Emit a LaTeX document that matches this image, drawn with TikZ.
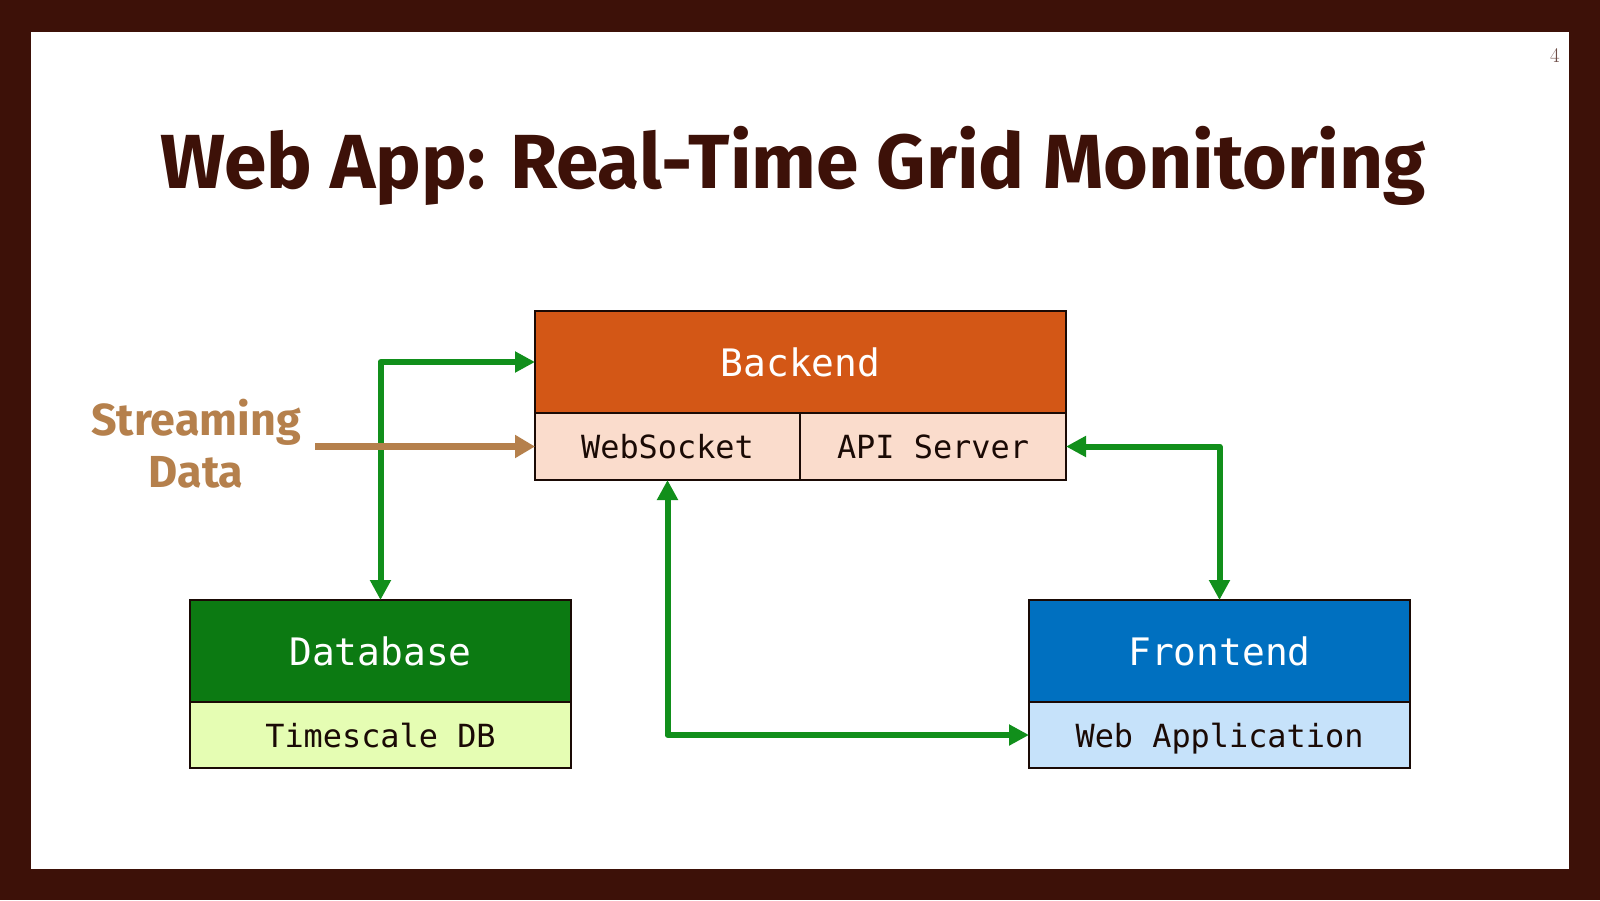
\documentclass[tikz,border=0pt]{standalone}
\usepackage{fontspec}
\setmainfont{Fira Sans}
\setmonofont{DejaVu Sans Mono}
\newfontfamily\numfont{Latin Modern Roman}
\usetikzlibrary{arrows.meta}

\definecolor{frame}{HTML}{3D1108}
\definecolor{backendhd}{HTML}{D35716}
\definecolor{backendsub}{HTML}{FADCCC}
\definecolor{dbhd}{HTML}{0C7A12}
\definecolor{dbsub}{HTML}{E5FDB3}
\definecolor{fehd}{HTML}{0070C0}
\definecolor{fesub}{HTML}{C6E2FA}
\definecolor{link}{HTML}{118F1B}
\definecolor{stream}{HTML}{B5804C}
\definecolor{ink}{HTML}{1A0A05}

\tikzset{
    box/.style={draw=ink, line width=2bp, inner sep=0pt, outer sep=0pt, text depth=0pt},
    header/.style={box, minimum height=102bp, text=white, text height=29bp,
        font=\ttfamily\fontsize{38}{40}\selectfont},
    sub/.style={box, minimum height=66bp, text=ink, text height=24.3bp,
        font=\ttfamily\fontsize{32}{34}\selectfont},
    linkarrow/.style={draw=link, line width=6bp, line join=round,
        {Triangle[length=20bp,width=20bp]}-{Triangle[length=20bp,width=20bp]}},
}

\begin{document}
\begin{tikzpicture}[x=1bp, y=-1bp]
    % Marco
    \useasboundingbox (0,0) rectangle (1600,900);
    \fill[frame] (0,0) rectangle (1600,900);
    \fill[white] (31,31.5) rectangle (1568.5,868.5);

    % Titulo y numero de pagina
    \node[text=frame, font=\bfseries\fontsize{77}{90}\selectfont] (title) at (793,166) {Web App: Real-Time Grid Monitoring};
    \node[text=frame!75, font=\numfont\fontsize{21}{22}\selectfont] (pagenum) at (1555,56) {4};

    % Backend
    \node[header, fill=backendhd, minimum width=531bp] (backend) at (800.5,362) {Backend};
    \node[sub, fill=backendsub, minimum width=265bp, minimum height=67bp] (ws) at (667.5,446.5) {WebSocket};
    \node[sub, fill=backendsub, minimum width=266bp, minimum height=67bp] (api) at (933,446.5) {API Server};

    % Database
    \node[header, fill=dbhd, minimum width=381bp] (db) at (380.5,651) {Database};
    \node[sub, fill=dbsub, minimum width=381bp] (tsdb) at (380.5,735) {Timescale DB};

    % Frontend
    \node[header, fill=fehd, minimum width=381bp] (fe) at (1219.5,651) {Frontend};
    \node[sub, fill=fesub, minimum width=381bp] (webapp) at (1219.5,735) {Web Application};

    % Conexiones
    \draw[linkarrow] (db.north) |- (backend.west);
    \draw[linkarrow] (api.east) -| (fe.north);
    \draw[linkarrow] (ws.south) |- (webapp.west);

    % Datos de entrada
    \node[text=stream, align=center, font=\bfseries\fontsize{45}{52}\selectfont] (streaming) at (196,444) {Streaming\\Data};
    \coordinate (src) at (315,446.5);
    \draw[draw=stream, line width=7bp, -{Triangle[length=20bp,width=22bp]}] (src) -- (ws.west);
\end{tikzpicture}
\end{document}
